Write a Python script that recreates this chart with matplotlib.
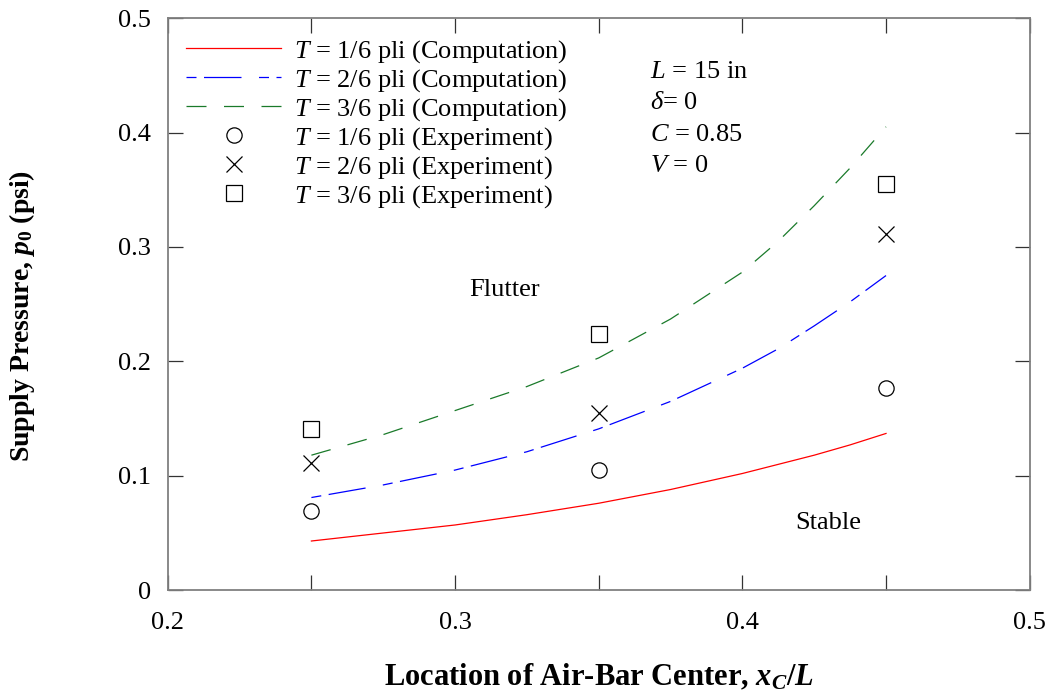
import matplotlib
matplotlib.use("Agg")
import matplotlib.pyplot as plt

# computed stability boundaries, supply pressure vs air-bar location
x_comp = [0.25, 0.275, 0.30, 0.325, 0.35, 0.375, 0.40, 0.4125, 0.425, 0.4375, 0.45]
p_t1 = [0.043, 0.050, 0.057, 0.066, 0.076, 0.088, 0.102, 0.110, 0.118, 0.127, 0.137]
p_t2 = [0.081, 0.092, 0.105, 0.121, 0.141, 0.165, 0.194, 0.211, 0.231, 0.252, 0.275]
p_t3 = [0.118, 0.136, 0.157, 0.178, 0.203, 0.237, 0.278, 0.305, 0.336, 0.369, 0.405]

# measured flutter onset
x_exp = [0.25, 0.35, 0.45]
e_t1 = [0.069, 0.105, 0.177]
e_t2 = [0.111, 0.155, 0.311]
e_t3 = [0.141, 0.224, 0.355]

x_ticks = [0.2, 0.3, 0.4, 0.5]
x_minor = [0.25, 0.35, 0.45]
y_ticks = [0, 0.1, 0.2, 0.3, 0.4, 0.5]

plt.rcParams['font.family'] = ['Liberation Serif', 'DejaVu Serif']
plt.rcParams['mathtext.fontset'] = 'custom'
plt.rcParams['mathtext.rm'] = 'Liberation Serif'
plt.rcParams['mathtext.it'] = 'Liberation Serif:italic'
plt.rcParams['mathtext.bf'] = 'Liberation Serif:bold'
plt.rcParams['mathtext.bfit'] = 'Liberation Serif:italic:bold'

fig = plt.figure(figsize=(10.55, 6.96), dpi=100)
ax = fig.add_axes([0.159, 0.152, 0.817, 0.822])

LW = 0.9
ax.plot(x_comp, p_t1, color='red', lw=LW, label=r'$T$ = 1/6 pli (Computation)')
ax.plot(x_comp, p_t2, color='blue', lw=LW, dashes=(8, 6, 30, 14),
        label=r'$T$ = 2/6 pli (Computation)')
ax.plot(x_comp, p_t3, color='#1a7a2a', lw=LW, dashes=(16, 14),
        label=r'$T$ = 3/6 pli (Computation)')

MS = 11
ax.plot(x_exp, e_t1, 'o', mfc='none', mec='black', mew=0.9, ms=MS,
        label=r'$T$ = 1/6 pli (Experiment)')
ax.plot(x_exp, e_t2, 'x', color='black', mew=0.9, ms=MS,
        label=r'$T$ = 2/6 pli (Experiment)')
ax.plot(x_exp, e_t3, 's', mfc='none', mec='black', mew=0.9, ms=MS,
        label=r'$T$ = 3/6 pli (Experiment)')

ax.set_xlim(0.2, 0.5)
ax.set_ylim(0, 0.5)
ax.set_xticks(x_ticks)
ax.set_xticklabels([f'{v:.1f}' for v in x_ticks])
ax.set_xticks(x_minor, minor=True)
ax.set_yticks(y_ticks)
ax.set_yticklabels(['0'] + [f'{v:.1f}' for v in y_ticks[1:]])
ax.tick_params(which='both', direction='in', top=True, right=True,
               length=11, width=0.9, labelsize=19, color='#333333')
ax.tick_params(axis='x', pad=16)
ax.tick_params(axis='y', pad=12)

for s in ax.spines.values():
    s.set_color('#808080')
    s.set_linewidth(1.3)

ax.set_xlabel(r'Location of Air-Bar Center, $\mathbfit{x}_\mathbfit{C}\mathbf{/}\mathbfit{L}$',
              fontsize=22, fontweight='bold', labelpad=20)
ax.set_ylabel(r'Supply Pressure, $\mathbfit{p}_\mathbf{0}$ (psi)',
              fontsize=20, fontweight='bold')
ax.yaxis.set_label_coords(-0.152, 0.48)

ax.legend(loc='upper left', bbox_to_anchor=(0.0, 0.997), frameon=False,
          fontsize=19, handlelength=3.6, handletextpad=0.5,
          labelspacing=0.08, borderaxespad=0.3)

ax.text(0.3678, 0.453, r'$L$ = 15 in', fontsize=19, va='center')
ax.text(0.3678, 0.426, r'$\delta$= 0', fontsize=19, va='center')
ax.text(0.3678, 0.398, r'$C$ = 0.85', fontsize=19, va='center')
ax.text(0.3678, 0.371, r'$V$ = 0', fontsize=19, va='center')

ax.text(0.3171, 0.262, 'Flutter', fontsize=19, ha='center', va='center')
ax.text(0.430, 0.059, 'Stable', fontsize=19, ha='center', va='center')

fig.savefig('out.png', dpi=100)
